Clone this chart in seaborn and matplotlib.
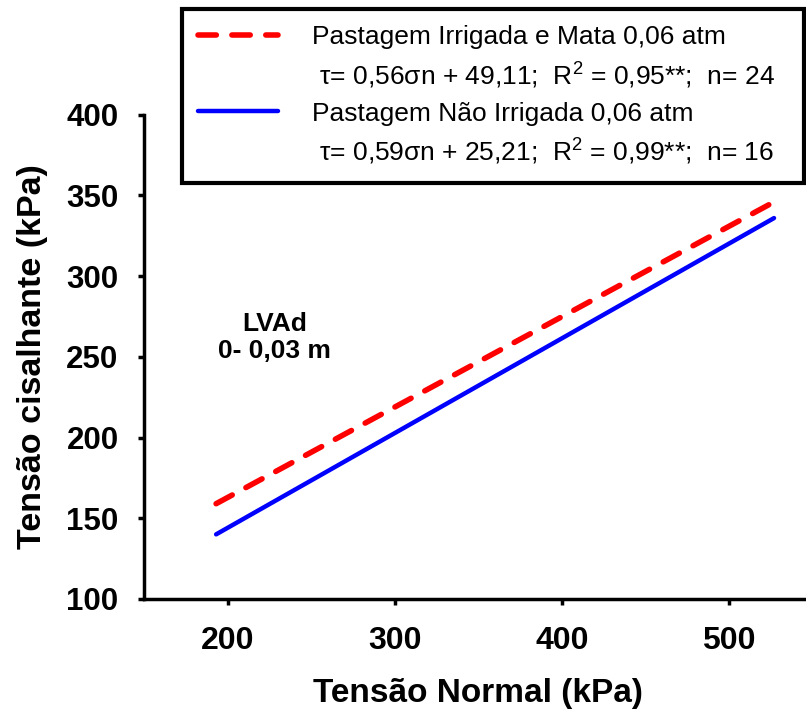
#   shear stress vs normal stress, LVAd 0-0,03 m
import seaborn as sns
import matplotlib.pyplot as plt
from matplotlib.lines import Line2D

#   data
x_normal = [193, 527]
y_irrigada = [159, 346]
y_nao_irrigada = [140, 336]

x_ticks = [200, 300, 400, 500]
y_ticks = [100, 150, 200, 250, 300, 350, 400]

lab_irrigada = 'Pastagem Irrigada e Mata 0,06 atm'
eq_irrigada = ' \u03c4= 0,56\u03c3n + 49,11;  R$^2$ = 0,95**;  n= 24'
lab_nao = 'Pastagem N\u00e3o Irrigada 0,06 atm'
eq_nao = ' \u03c4= 0,59\u03c3n + 25,21;  R$^2$ = 0,99**;  n= 16'

sns.set_style('ticks')
plt.rcParams['font.family'] = ['Liberation Sans', 'DejaVu Sans']
plt.rcParams['mathtext.fontset'] = 'custom'
plt.rcParams['mathtext.rm'] = 'Liberation Sans'
plt.rcParams['mathtext.it'] = 'Liberation Sans:italic'
plt.rcParams['mathtext.bf'] = 'Liberation Sans:bold'
for k in ['text.color', 'axes.labelcolor', 'xtick.color', 'ytick.color']:
    plt.rcParams[k] = 'black'

fig = plt.figure(figsize=(8.06, 7.13), dpi=100)
ax = fig.add_axes([0.179, 0.160, 0.829, 0.679])

sns.lineplot(x=x_normal, y=y_irrigada, ax=ax, color='#ff0000', lw=4,
             ls=(0, (3.3, 2.8)), dash_capstyle='round')
sns.lineplot(x=x_normal, y=y_nao_irrigada, ax=ax, color='#0000ff', lw=3.2,
             solid_capstyle='round')

ax.set_xlim(150, 550)
ax.set_ylim(100, 400)
ax.set_xticks(x_ticks)
ax.set_yticks(y_ticks)

for s in ['top', 'right']:
    ax.spines[s].set_visible(False)
for s in ['left', 'bottom']:
    ax.spines[s].set_linewidth(2.5)
    ax.spines[s].set_color('black')

ax.tick_params(axis='both', direction='out', length=4.5, width=2.5, colors='black')
ax.tick_params(axis='y', pad=14, labelsize=22.5)
ax.tick_params(axis='x', pad=15, labelsize=23)
for t in ax.get_xticklabels() + ax.get_yticklabels():
    t.set_fontweight('bold')

ax.set_xlabel('Tens\u00e3o Normal (kPa)', fontsize=24, fontweight='bold', labelpad=16)
ax.set_ylabel('Tens\u00e3o cisalhante (kPa)', fontsize=24.5, fontweight='bold', labelpad=13)

ax.text(228, 262, 'LVAd\n0- 0,03 m', ha='center', va='center', fontsize=19,
        fontweight='bold', linespacing=1.15)

#   legend: equation rows get an empty handle
h = ax.get_lines()
blank = Line2D([], [], color='none')
leg = ax.legend([h[0], blank, h[1], blank], [lab_irrigada, eq_irrigada, lab_nao, eq_nao],
                loc='upper left', mode='expand',
                bbox_to_anchor=(182 / 806, 0, 622 / 806, 1 - 9 / 713),
                bbox_transform=fig.transFigure, borderaxespad=0, fontsize=19,
                frameon=True, fancybox=False, framealpha=1, edgecolor='black',
                handlelength=3.0, handletextpad=1.3, borderpad=0.62, labelspacing=0.42)
leg.get_frame().set_linewidth(3)

fig.savefig('out.png', dpi=100)
